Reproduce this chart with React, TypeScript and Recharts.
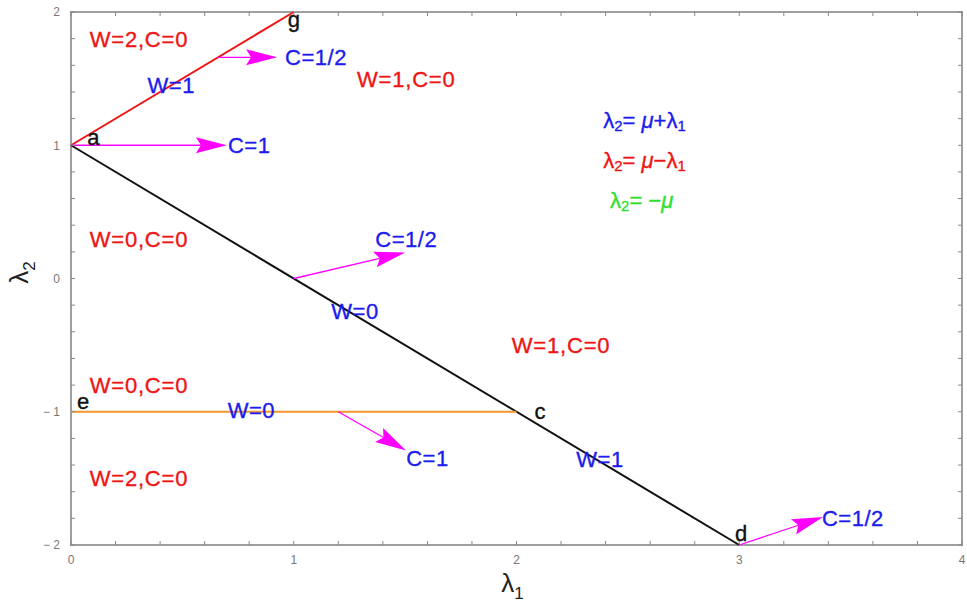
import {
  ComposedChart,
  Label,
  ReferenceLine,
  Scatter,
  XAxis,
  YAxis,
} from "recharts";

type Pt = { x: number; y: number };
type Tag = Pt & { text: string };

// boundaries in the (λ1, λ2) plane
const redBoundary: Pt[] = [{ x: 0, y: 1 }, { x: 1, y: 2 }];
const blackBoundary: Pt[] = [{ x: 0, y: 1 }, { x: 3, y: -2 }];
const orangeBoundary: Pt[] = [{ x: 0, y: -1 }, { x: 2, y: -1 }];

// magenta arrows: [from, to]
const arrows: [Pt, Pt][] = [
  [{ x: 0, y: 1 }, { x: 0.7, y: 1 }],
  [{ x: 0.66, y: 1.66 }, { x: 0.925, y: 1.66 }],
  [{ x: 1, y: 0 }, { x: 1.5, y: 0.195 }],
  [{ x: 1.2, y: -1 }, { x: 1.504, y: -1.29 }],
  [{ x: 3, y: -2 }, { x: 3.376, y: -1.79 }],
];

const regionTags: Tag[] = [
  { x: 0.305, y: 1.79, text: "W=2,C=0" },
  { x: 1.505, y: 1.49, text: "W=1,C=0" },
  { x: 0.305, y: 0.289, text: "W=0,C=0" },
  { x: 2.2, y: -0.5, text: "W=1,C=0" },
  { x: 0.305, y: -0.8, text: "W=0,C=0" },
  { x: 0.305, y: -1.5, text: "W=2,C=0" },
];

const lineTags: Tag[] = [
  { x: 0.45, y: 1.445, text: "W=1" },
  { x: 1.1, y: 1.66, text: "C=1/2" },
  { x: 0.8, y: 1.0, text: "C=1" },
  { x: 1.505, y: 0.289, text: "C=1/2" },
  { x: 1.275, y: -0.25, text: "W=0" },
  { x: 0.81, y: -0.99, text: "W=0" },
  { x: 1.6, y: -1.35, text: "C=1" },
  { x: 2.375, y: -1.36, text: "W=1" },
  { x: 3.51, y: -1.8, text: "C=1/2" },
];

const pointTags: Tag[] = [
  { x: 0.1, y: 1.06, text: "a" },
  { x: 1.0, y: 1.94, text: "g" },
  { x: 0.054, y: -0.92, text: "e" },
  { x: 2.105, y: -1.0, text: "c" },
  { x: 3.008, y: -1.91, text: "d" },
];

const formulaTags: (Pt & { kind: string })[] = [
  { x: 2.389, y: 1.19, kind: "plus" },
  { x: 2.389, y: 0.89, kind: "minus" },
  { x: 2.42, y: 0.59, kind: "neg" },
];

const xTicks = [0, 0.2, 0.4, 0.6, 0.8, 1, 1.2, 1.4, 1.6, 1.8, 2, 2.2, 2.4, 2.6, 2.8, 3, 3.2, 3.4, 3.6, 3.8, 4];
const yTicks = [-2, -1.8, -1.6, -1.4, -1.2, -1, -0.8, -0.6, -0.4, -0.2, 0, 0.2, 0.4, 0.6, 0.8, 1, 1.2, 1.4, 1.6, 1.8, 2];

const X_MAX = 4;
const Y_MAX = 2;
const Y_MIN = -2;

// plot corners (top-left, bottom-right) for the frame
const frameDiagonal: Pt[] = [{ x: 0, y: Y_MAX }, { x: X_MAX, y: Y_MIN }];

// tick positions on all four frame edges
const topTickPts: Pt[] = xTicks.map((t) => ({ x: t, y: Y_MAX }));
const bottomTickPts: Pt[] = xTicks.map((t) => ({ x: t, y: Y_MIN }));
const leftTickPts: Pt[] = yTicks.map((t) => ({ x: 0, y: t }));
const rightTickPts: Pt[] = yTicks.map((t) => ({ x: X_MAX, y: t }));

const FONT = "'Liberation Sans', Arial, Helvetica, sans-serif";
const RED = "#ee1515";
const BLUE = "#1c1ced";
const GREEN = "#2ee02e";
const MAGENTA = "#ff00ff";
const ORANGE = "#f7962a";
const AXIS = "#888888";

const fmtTick = (v: number) => {
  if (Math.abs(v - Math.round(v)) > 1e-6) return "";
  const r = Math.round(v);
  return r < 0 ? `\u2212 ${-r}` : String(r);
};

// frame drawn as four thin filled bars from the diagonal's endpoints
function FrameShape(p: any) {
  const { x1, y1, x2, y2 } = p;
  if (x1 == null || x2 == null) return <g />;
  const l = Math.min(x1, x2);
  const r = Math.max(x1, x2);
  const t = Math.min(y1, y2);
  const b = Math.max(y1, y2);
  const w = 1.6;
  return (
    <g>
      <rect x={l - w / 2} y={t - w / 2} width={r - l + w} height={w} fill={AXIS} />
      <rect x={l - w / 2} y={b - w / 2} width={r - l + w} height={w} fill={AXIS} />
      <rect x={l - w / 2} y={t - w / 2} width={w} height={b - t + w} fill={AXIS} />
      <rect x={r - w / 2} y={t - w / 2} width={w} height={b - t + w} fill={AXIS} />
    </g>
  );
}

const stub = (dx: number, dy: number) => (p: any) => (
  <rect
    x={dx === 0 ? p.cx - 0.5 : dx > 0 ? p.cx : p.cx - 4}
    y={dy === 0 ? p.cy - 0.5 : dy > 0 ? p.cy : p.cy - 4}
    width={dx === 0 ? 1 : 4}
    height={dy === 0 ? 1 : 4}
    fill={AXIS}
  />
);

function ArrowShape(p: any) {
  const { x1, y1, x2, y2 } = p;
  if (x1 == null || x2 == null) return <g />;
  const dx = x2 - x1;
  const dy = y2 - y1;
  const len = Math.hypot(dx, dy) || 1;
  const ux = dx / len;
  const uy = dy / len;
  const L = 31;
  const W = 8;
  const N = 5;
  const bx = x2 - ux * L;
  const by = y2 - uy * L;
  const nx = x2 - ux * (L - N);
  const ny = y2 - uy * (L - N);
  const pts = [
    [x2, y2],
    [bx - uy * W, by + ux * W],
    [nx, ny],
    [bx + uy * W, by - ux * W],
  ]
    .map((q) => q.join(","))
    .join(" ");
  return (
    <g>
      <line x1={x1} y1={y1} x2={nx} y2={ny} stroke={MAGENTA} strokeWidth={1.3} />
      <polygon points={pts} fill={MAGENTA} />
    </g>
  );
}

const tagShape = (color: string, size: number, spacing: number) => (p: any) => (
  <text
    x={p.cx}
    y={p.cy}
    fill={color}
    stroke={color}
    strokeWidth={0.35}
    fontSize={size}
    fontFamily={FONT}
    textAnchor="middle"
    dominantBaseline="central"
    letterSpacing={spacing}
  >
    {p.payload.text}
  </text>
);

function FormulaShape(p: any) {
  const kind = p.payload.kind;
  const color = kind === "plus" ? BLUE : kind === "minus" ? RED : GREEN;
  const sub = { fontSize: 15, dy: 5 };
  return (
    <text
      x={p.cx}
      y={p.cy}
      fill={color}
      stroke={color}
      strokeWidth={0.35}
      fontSize={22}
      fontFamily={FONT}
      dominantBaseline="central"
    >
      <tspan>λ</tspan>
      <tspan {...sub}>2</tspan>
      <tspan dy={-5}>= </tspan>
      {kind === "neg" ? (
        <>
          <tspan>−</tspan>
          <tspan fontStyle="italic">μ</tspan>
        </>
      ) : (
        <>
          <tspan fontStyle="italic">μ</tspan>
          <tspan>{kind === "plus" ? "+" : "−"}λ</tspan>
          <tspan {...sub}>1</tspan>
        </>
      )}
    </text>
  );
}

function XTitle(p: any) {
  const vb = p.viewBox;
  return (
    <text x={vb.x + vb.width / 2 - 4} y={592} fill="#222" fontSize={26} fontFamily={FONT} textAnchor="middle">
      <tspan>λ</tspan>
      <tspan fontSize={17} dy={7}>1</tspan>
    </text>
  );
}

function YTitle(p: any) {
  const vb = p.viewBox;
  const cy = vb.y + vb.height / 2 - 6;
  const cx = 28;
  return (
    <text
      x={cx}
      y={cy}
      fill="#222"
      fontSize={26}
      fontFamily={FONT}
      textAnchor="middle"
      transform={`rotate(-90 ${cx} ${cy})`}
    >
      <tspan>λ</tspan>
      <tspan fontSize={17} dy={7}>2</tspan>
    </text>
  );
}

export default function App() {
  return (
    <div style={{ position: "absolute", left: 0, top: 0, background: "#fff" }}>
      <ComposedChart
        width={967}
        height={606}
        margin={{ top: 12, right: 5, bottom: 31, left: 0 }}
      >
        <XAxis
          type="number"
          dataKey="x"
          domain={[0, X_MAX]}
          ticks={xTicks}
          interval={0}
          tickFormatter={fmtTick}
          tickSize={-4}
          tickMargin={14}
          height={30}
          axisLine={false}
          tickLine={false}
          tick={{ fill: "#777", fontSize: 12, fontFamily: FONT }}
        >
          <Label content={XTitle} />
        </XAxis>
        <YAxis
          type="number"
          dataKey="y"
          domain={[Y_MIN, Y_MAX]}
          ticks={yTicks}
          interval={0}
          tickFormatter={fmtTick}
          tickSize={-4}
          tickMargin={15}
          width={71}
          axisLine={false}
          tickLine={false}
          tick={{ fill: "#777", fontSize: 12, fontFamily: FONT }}
        >
          <Label content={YTitle} />
        </YAxis>

        <ReferenceLine segment={frameDiagonal} ifOverflow="visible" shape={FrameShape} />
        <Scatter data={topTickPts} shape={stub(0, 1)} isAnimationActive={false} />
        <Scatter data={bottomTickPts} shape={stub(0, -1)} isAnimationActive={false} />
        <Scatter data={leftTickPts} shape={stub(1, 0)} isAnimationActive={false} />
        <Scatter data={rightTickPts} shape={stub(-1, 0)} isAnimationActive={false} />

        <ReferenceLine segment={redBoundary} stroke={RED} strokeWidth={2} ifOverflow="visible" />
        <ReferenceLine segment={blackBoundary} stroke="#111" strokeWidth={2} ifOverflow="visible" />
        <ReferenceLine segment={orangeBoundary} stroke={ORANGE} strokeWidth={2} ifOverflow="visible" />
        {arrows.map((seg, i) => (
          <ReferenceLine key={i} segment={seg} ifOverflow="visible" shape={ArrowShape} />
        ))}

        <Scatter data={regionTags} shape={tagShape(RED, 22, 0.8)} isAnimationActive={false} />
        <Scatter data={lineTags} shape={tagShape(BLUE, 22, 0.5)} isAnimationActive={false} />
        <Scatter data={pointTags} shape={tagShape("#111", 22, 0)} isAnimationActive={false} />
        <Scatter data={formulaTags} shape={FormulaShape} isAnimationActive={false} />
      </ComposedChart>
    </div>
  );
}
